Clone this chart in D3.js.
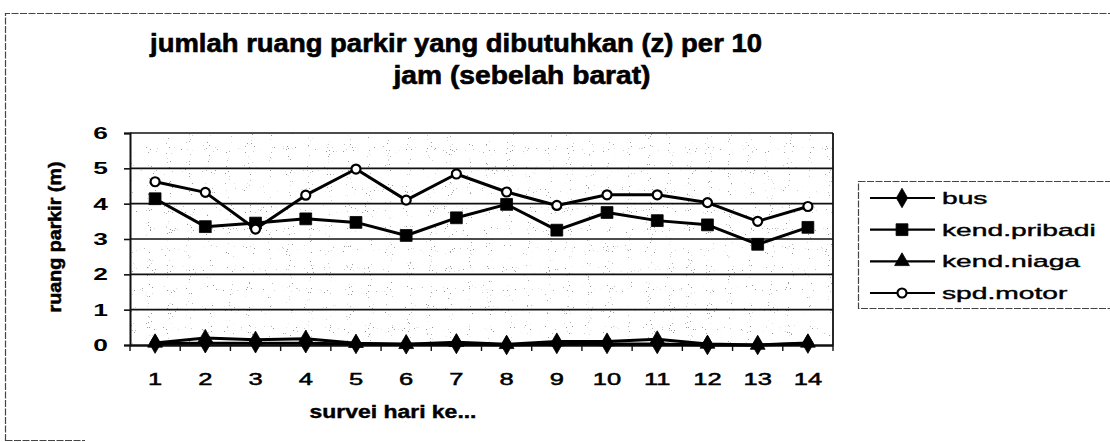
<!DOCTYPE html>
<html>
<head>
<meta charset="utf-8">
<script src="https://cdn.jsdelivr.net/npm/d3@7"></script>
<style>
  html, body { margin: 0; padding: 0; background: #fff; }
  svg { display: block; }
  text { font-family: "Liberation Sans", Arial, sans-serif; fill: #000; }
</style>
</head>
<body>
<svg id="chart" width="1110" height="442"></svg>
<script>
// Survey days (x categories)
const days = ["1","2","3","4","5","6","7","8","9","10","11","12","13","14"];

// Parking spaces needed per 10 hours, west side
const busVals     = [0.04, 0.05, 0.05, 0.05, 0.03, 0.02, 0.03, 0.00, 0.03, 0.03, 0.03, 0.00, 0.00, 0.04];
const pribadiVals = [4.14, 3.35, 3.45, 3.57, 3.47, 3.10, 3.60, 3.98, 3.25, 3.75, 3.52, 3.40, 2.85, 3.33];
const niagaVals   = [0.06, 0.20, 0.15, 0.18, 0.05, 0.02, 0.08, 0.02, 0.10, 0.10, 0.16, 0.03, 0.00, 0.06];
const motorVals   = [4.62, 4.32, 3.28, 4.24, 4.98, 4.10, 4.84, 4.33, 3.95, 4.25, 4.25, 4.03, 3.50, 3.92];

const seriesNames = ["bus", "kend.pribadi", "kend.niaga", "spd.motor"];
const seriesMarks = ["diamond", "square", "triangle", "circle"];
const yTicks = [0, 1, 2, 3, 4, 5, 6];

const titleLines = ["jumlah ruang parkir yang dibutuhkan (z) per 10", "jam (sebelah barat)"];
const xTitle = "survei hari ke...";
const yTitle = "ruang parkir (m)";

const series = [busVals, pribadiVals, niagaVals, motorVals].map((vals, i) => ({
  name: seriesNames[i], mark: seriesMarks[i], values: vals
}));

const svg = d3.select("#chart");

// Plot frame
const plot = { left: 130, right: 833, top: 133, bottom: 345 };
const x = d3.scaleBand().domain(days).range([plot.left, plot.right]);
const y = d3.scaleLinear().domain([0, 6]).range([plot.bottom, plot.top]);
const cx = d => x(d) + x.bandwidth() / 2;

// Sparse stipple texture for the plot background
const defs = svg.append("defs");
const f = defs.append("filter").attr("id", "stipple")
  .attr("x", 0).attr("y", 0).attr("width", "100%").attr("height", "100%");
f.append("feTurbulence").attr("type", "fractalNoise").attr("baseFrequency", 0.95)
  .attr("numOctaves", 1).attr("seed", 7).attr("result", "noise");
f.append("feColorMatrix").attr("in", "noise").attr("type", "matrix")
  .attr("values", "0 0 0 0 0  0 0 0 0 0  0 0 0 0 0  22 0 0 0 -15.4");

// Outer chart border (light dashed)
svg.append("path")
  .attr("d", "M5.5,441 L5.5,13.5 L1110,13.5 M5.5,440.5 L85,440.5")
  .attr("fill", "none").attr("stroke", "#444").attr("stroke-width", 1.2)
  .attr("stroke-dasharray", "7 1.5");

// Plot area
svg.append("rect")
  .attr("x", plot.left).attr("y", plot.top)
  .attr("width", plot.right - plot.left).attr("height", plot.bottom - plot.top)
  .attr("fill", "#fff");
svg.append("rect")
  .attr("x", plot.left).attr("y", plot.top)
  .attr("width", plot.right - plot.left).attr("height", plot.bottom - plot.top)
  .attr("fill", "#000").attr("filter", "url(#stipple)").attr("opacity", 0.4);

// Horizontal gridlines
svg.append("g")
  .selectAll("line").data(yTicks.filter(t => t > 0)).join("line")
  .attr("x1", plot.left).attr("x2", plot.right)
  .attr("y1", d => y(d)).attr("y2", d => y(d))
  .attr("stroke", "#111").attr("stroke-width", 1.6);

// Right border of plot
svg.append("line")
  .attr("x1", plot.right).attr("x2", plot.right)
  .attr("y1", plot.top).attr("y2", plot.bottom)
  .attr("stroke", "#111").attr("stroke-width", 1.8);

// Stretch helper for text drawn wide
function widen(sel, sx) {
  sel.each(function () {
    const t = d3.select(this);
    const tx = +t.attr("x") || 0, ty = +t.attr("y") || 0;
    t.attr("x", 0).attr("y", 0)
     .attr("transform", `translate(${tx},${ty}) scale(${sx},1)`);
  });
}

// Y axis
const yAxis = svg.append("g")
  .attr("transform", `translate(${plot.left},0)`)
  .call(d3.axisLeft(y).tickValues(yTicks).tickSize(6).tickPadding(16).tickFormat(d3.format("d")));
yAxis.select(".domain").attr("stroke", "#111").attr("stroke-width", 2);
yAxis.selectAll(".tick line").attr("stroke", "#111").attr("stroke-width", 1.6);
yAxis.selectAll(".tick text")
  .attr("font-size", 17).attr("font-family", "Liberation Sans, Arial, sans-serif")
  .attr("font-weight", "bold").attr("fill", "#000");
widen(yAxis.selectAll(".tick text"), 1.55);

// X axis (labels centred under each point)
const xAxis = svg.append("g")
  .attr("transform", `translate(0,${plot.bottom})`)
  .call(d3.axisBottom(x).tickSize(0).tickPadding(28));
xAxis.select(".domain").attr("stroke", "#111").attr("stroke-width", 2.4);
xAxis.selectAll(".tick text")
  .attr("font-size", 17).attr("font-family", "Liberation Sans, Arial, sans-serif")
  .attr("fill", "#000").attr("stroke", "#000").attr("stroke-width", 0.5);
widen(xAxis.selectAll(".tick text"), 1.5);

// Category boundary ticks on x axis
const bounds = days.map(d => x(d)).concat([x(days[days.length - 1]) + x.bandwidth()]);
svg.append("g").selectAll("line").data(bounds).join("line")
  .attr("x1", d => d).attr("x2", d => d)
  .attr("y1", plot.bottom).attr("y2", plot.bottom + 6)
  .attr("stroke", "#111").attr("stroke-width", 1.4);

// Marker symbols
const symbolType = {
  diamond: d3.symbolDiamond, square: d3.symbolSquare,
  triangle: d3.symbolTriangle, circle: d3.symbolCircle
};
const symbolSize = { diamond: 110, square: 140, triangle: 95, circle: 64 };
function drawMarker(g, mark, px, py) {
  g.append("path")
    .attr("d", d3.symbol().type(symbolType[mark]).size(symbolSize[mark])())
    .attr("transform", `translate(${px},${py})`)
    .attr("fill", mark === "circle" ? "#fff" : "#000")
    .attr("stroke", "#000")
    .attr("stroke-width", mark === "circle" ? 2.2 : 0.8);
}

// Lines and markers
const line = d3.line().x((v, i) => cx(days[i])).y(v => y(v));
const lineG = svg.append("g");
series.forEach(s => {
  lineG.append("path").datum(s.values)
    .attr("d", line).attr("fill", "none")
    .attr("stroke", "#000").attr("stroke-width", 3).attr("stroke-linejoin", "round");
});
series.forEach(s => {
  const g = lineG.append("g");
  s.values.forEach((v, i) => drawMarker(g, s.mark, cx(days[i]), y(v)));
});

// Title
const title = svg.append("g").attr("font-weight", "bold").attr("font-size", 25)
  .attr("stroke", "#000").attr("stroke-width", 0.6);
title.append("text").attr("x", 456).attr("y", 52).attr("text-anchor", "middle")
  .attr("textLength", 612).attr("lengthAdjust", "spacingAndGlyphs").text(titleLines[0]);
title.append("text").attr("x", 522).attr("y", 84).attr("text-anchor", "middle")
  .attr("textLength", 257).attr("lengthAdjust", "spacingAndGlyphs").text(titleLines[1]);

// Axis titles
svg.append("text").attr("x", 393).attr("y", 418).attr("text-anchor", "middle")
  .attr("font-weight", "bold").attr("font-size", 18).attr("stroke", "#000").attr("stroke-width", 0.4)
  .attr("textLength", 167).attr("lengthAdjust", "spacingAndGlyphs").text(xTitle);
svg.append("text").attr("transform", "translate(61,237) rotate(-90)").attr("text-anchor", "middle")
  .attr("font-weight", "bold").attr("font-size", 18).attr("stroke", "#000").attr("stroke-width", 0.5)
  .attr("textLength", 151).attr("lengthAdjust", "spacingAndGlyphs").text(yTitle);

// Legend
const legend = svg.append("g");
legend.append("rect").attr("x", 858.5).attr("y", 181.5).attr("width", 260).attr("height", 127)
  .attr("fill", "#fff").attr("stroke", "#444").attr("stroke-width", 1.2).attr("stroke-dasharray", "7 1.5");
const rowY = d3.scalePoint().domain(seriesNames).range([198, 293]);
series.forEach(s => {
  const ry = rowY(s.name);
  legend.append("line").attr("x1", 870).attr("x2", 935).attr("y1", ry).attr("y2", ry)
    .attr("stroke", "#000").attr("stroke-width", 2.2);
  drawMarker(legend, s.mark, 902, ry);
  const t = legend.append("text").attr("x", 942).attr("y", ry + 6)
    .attr("font-size", 17).attr("stroke", "#000").attr("stroke-width", 0.4).text(s.name);
  widen(t, 1.66);
});
</script>
</body>
</html>
